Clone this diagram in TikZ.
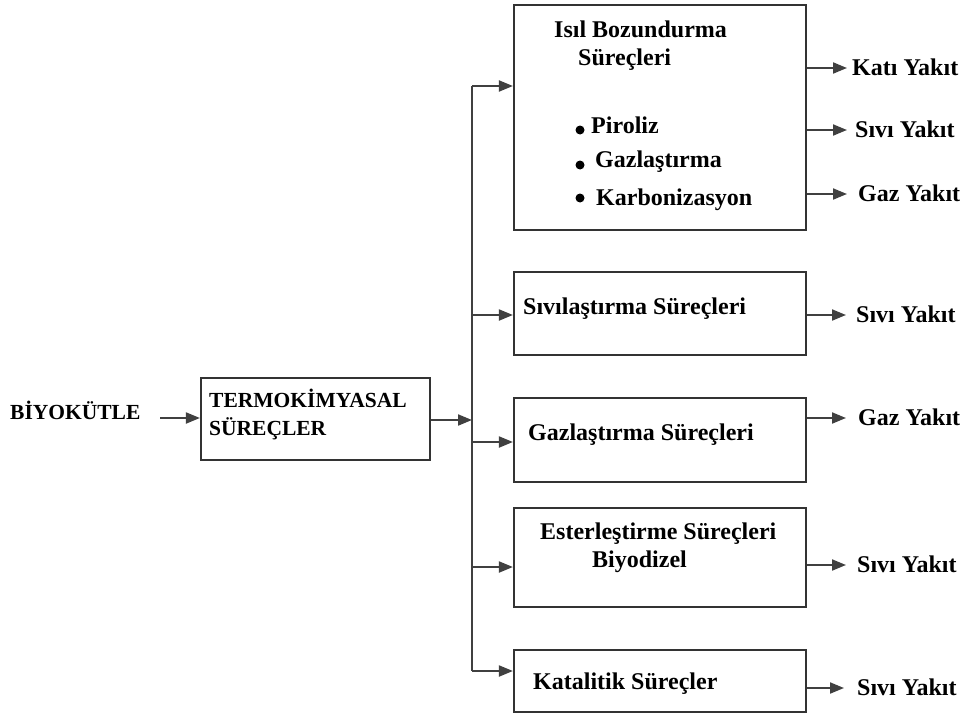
\documentclass[tikz,border=0pt]{standalone}
\usepackage{fontspec}
\setmainfont{Liberation Serif}
\usetikzlibrary{arrows.meta}
\begin{document}
\begin{tikzpicture}[x=1pt,y=-1pt,
  txt/.style={anchor=west,inner sep=0pt,text height=15pt,text depth=0pt,font=\fontsize{24}{28}\selectfont\bfseries},
  captxt/.style={txt,font=\fontsize{21.5}{28}\selectfont\bfseries},
  box/.style={draw=black!80,line width=2.2pt,inner sep=0pt},
  line/.style={draw=black!75,line width=2pt},
  arr/.style={line,-{Triangle[length=14pt,width=11pt]}},
  bul/.style={circle,fill=black,inner sep=0pt,minimum size=9pt}]
\useasboundingbox (0,0) rectangle (963,717);
% boxes
\node[box,minimum width=229pt,minimum height=82pt] (termo) at (315.5,419) {};
\node[box,minimum width=292pt,minimum height=225pt] (b1) at (660,117.5) {};
\node[box,minimum width=292pt,minimum height=83pt] (b2) at (660,313.5) {};
\node[box,minimum width=292pt,minimum height=84pt] (b3) at (660,440) {};
\node[box,minimum width=292pt,minimum height=99pt] (b4) at (660,557.5) {};
\node[box,minimum width=292pt,minimum height=62pt] (b5) at (660,681) {};
% texts
\node[captxt] (bio) at (10,412) {BİYOKÜTLE};
\node[captxt] (t1a) at (209,400) {TERMOKİMYASAL};
\node[captxt] (t1b) at (209,428) {SÜREÇLER};
\node[txt] (h1a) at (554,30) {Isıl Bozundurma};
\node[txt] (h1b) at (578,58) {Süreçleri};
\node[bul] (d1) at (580,130) {};
\node[bul] (d2) at (580,165) {};
\node[bul] (d3) at (580,198) {};
\node[txt] (p1) at (591,126) {Piroliz};
\node[txt] (p2) at (595,160) {Gazlaştırma};
\node[txt] (p3) at (596,198) {Karbonizasyon};
\node[txt] (h2) at (523,307) {Sıvılaştırma Süreçleri};
\node[txt] (h3) at (528,433) {Gazlaştırma Süreçleri};
\node[txt] (h4a) at (540,532) {Esterleştirme Süreçleri};
\node[txt] (h4b) at (592,560) {Biyodizel};
\node[txt] (h5) at (533,682) {Katalitik Süreçler};
% outputs
\node[txt] (o1) at (852,68) {Katı Yakıt};
\node[txt] (o2) at (855,130) {Sıvı Yakıt};
\node[txt] (o3) at (858,194) {Gaz Yakıt};
\node[txt] (o4) at (856,315) {Sıvı Yakıt};
\node[txt] (o5) at (858,418) {Gaz Yakıt};
\node[txt] (o6) at (857,565) {Sıvı Yakıt};
\node[txt] (o7) at (857,688) {Sıvı Yakıt};
% connectors
\coordinate (s0) at (160,418);
\draw[arr] (s0) -- (termo.west |- s0);
\coordinate (j) at (472,420);
\draw[arr] (termo.east |- j) -- (j);
\coordinate (tt) at (472,86);
\coordinate (tb) at (472,671);
\draw[line] (tt) -- (tb);
\coordinate (j2) at (472,315);
\coordinate (j3) at (472,442);
\coordinate (j4) at (472,567);
\draw[arr] (tt) -- (b1.west |- tt);
\draw[arr] (j2) -- (b2.west |- j2);
\draw[arr] (j3) -- (b3.west |- j3);
\draw[arr] (j4) -- (b4.west |- j4);
\draw[arr] (tb) -- (b5.west |- tb);
\draw[arr] (b1.east |- o1.west) -- ([xshift=-5pt]o1.west);
\draw[arr] (b1.east |- o2.west) -- ([xshift=-8pt]o2.west);
\draw[arr] (b1.east |- o3.west) -- ([xshift=-11pt]o3.west);
\draw[arr] (b2.east |- o4.west) -- ([xshift=-10pt]o4.west);
\draw[arr] (b3.east |- o5.west) -- ([xshift=-12pt]o5.west);
\draw[arr] (b4.east |- o6.west) -- ([xshift=-11pt]o6.west);
\draw[arr] (b5.east |- o7.west) -- ([xshift=-13pt]o7.west);
\end{tikzpicture}
\end{document}
